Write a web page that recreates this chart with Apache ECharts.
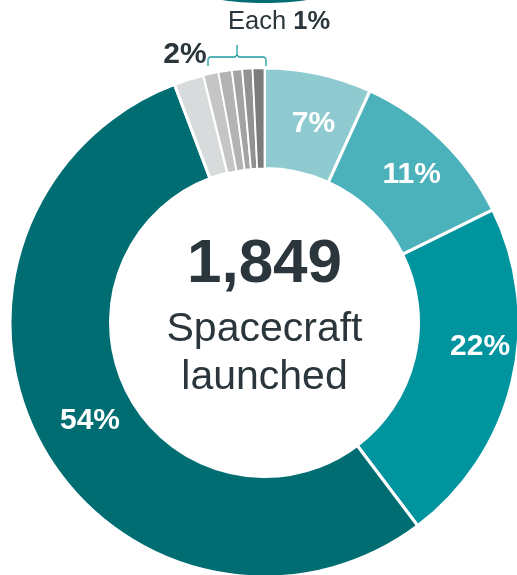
<!DOCTYPE html>
<html>
<head>
<meta charset="utf-8">
<script src="https://cdn.jsdelivr.net/npm/echarts@6/dist/echarts.min.js"></script>
<style>
html,body{margin:0;padding:0;background:#fff;}
#c{width:517px;height:575px;}
</style>
</head>
<body>
<div id="c"></div>
<script>
// Data (share of spacecraft launched, %)
const categories = ['Group A', 'Group B', 'Group C', 'Group D', 'Group E', 'Group F1', 'Group F2', 'Group F3', 'Group F4', 'Group F5'];
const values = [6.8, 10.9, 22.0, 54.5, 1.9, 0.95, 0.85, 0.65, 0.65, 0.75];
const valueLabels = ['7%', '11%', '22%', '54%', '2%', '', '', '', '', ''];
const totalText = '1,849';
const centerLines = ['Spacecraft', 'launched'];
const bracketText = ['Each ', '1%'];

const colors = ['#8fcad0', '#4bb1ba', '#00949e', '#006d73', '#d8dbdc', '#c5c5c5', '#b3b3b3', '#a3a3a3', '#929292', '#7c7c7c'];
const labelOffsets = [[5, 4], [3, 1], [14, -24], [7, -2], [-18, -70], [0,0],[0,0],[0,0],[0,0],[0,0]];
const FONT = '"Liberation Sans", Arial, sans-serif';

const data = categories.map((name, i) => ({
  name: name,
  value: values[i],
  itemStyle: { color: colors[i], borderColor: '#ffffff', borderWidth: i < 5 ? 3 : 1.8 },
  label: i === 4 ? {
    show: true, position: 'inside', formatter: valueLabels[i], offset: labelOffsets[i],
    color: '#2a363b', fontSize: 30, fontWeight: 'bold', fontFamily: FONT
  } : {
    show: valueLabels[i] !== '', position: 'inside', formatter: valueLabels[i], offset: labelOffsets[i],
    color: '#ffffff', fontSize: 30, fontWeight: 'bold', fontFamily: FONT
  }
}));

const chart = echarts.init(document.getElementById('c'), null, { renderer: 'canvas' });
chart.setOption({
  animation: false,
  backgroundColor: '#ffffff',
  series: [{
    type: 'pie',
    center: [264.5, 322.5],
    radius: [154, 254.5],
    startAngle: 90,
    clockwise: true,
    avoidLabelOverlap: false,
    labelLine: { show: false },
    emphasis: { disabled: true },
    data: data
  }],
  graphic: [
    { type: 'ellipse', shape: { cx: 264.5, cy: -9, rx: 64, ry: 12 }, style: { fill: '#006d73' } },
    { type: 'text', x: 264.5, y: 265, style: { text: totalText, fill: '#2a363b', font: 'bold 62px ' + FONT, textAlign: 'center', textVerticalAlign: 'middle' } },
    { type: 'text', x: 264.5, y: 330, style: { text: centerLines[0], fill: '#2a363b', font: '41px ' + FONT, textAlign: 'center', textVerticalAlign: 'middle' } },
    { type: 'text', x: 264.5, y: 378, style: { text: centerLines[1], fill: '#2a363b', font: '41px ' + FONT, textAlign: 'center', textVerticalAlign: 'middle' } },
    { type: 'text', x: 228, y: 22, style: { text: '{a|' + bracketText[0] + '}{b|' + bracketText[1] + '}', rich: {
        a: { fill: '#2a363b', fontSize: 25.5, fontFamily: FONT, color: '#2a363b' },
        b: { fill: '#2a363b', fontSize: 25.5, fontWeight: 'bold', fontFamily: FONT, color: '#2a363b' }
      }, textVerticalAlign: 'middle' } },
    { type: 'polyline', shape: { points: [[208, 66], [208, 59], [210, 57], [235, 57], [237, 55], [237, 45], [237, 55], [239, 57], [264, 57], [266, 59], [266, 66]] },
      style: { stroke: '#1d9ca3', lineWidth: 1.3, fill: null } }
  ]
});
</script>
</body>
</html>
